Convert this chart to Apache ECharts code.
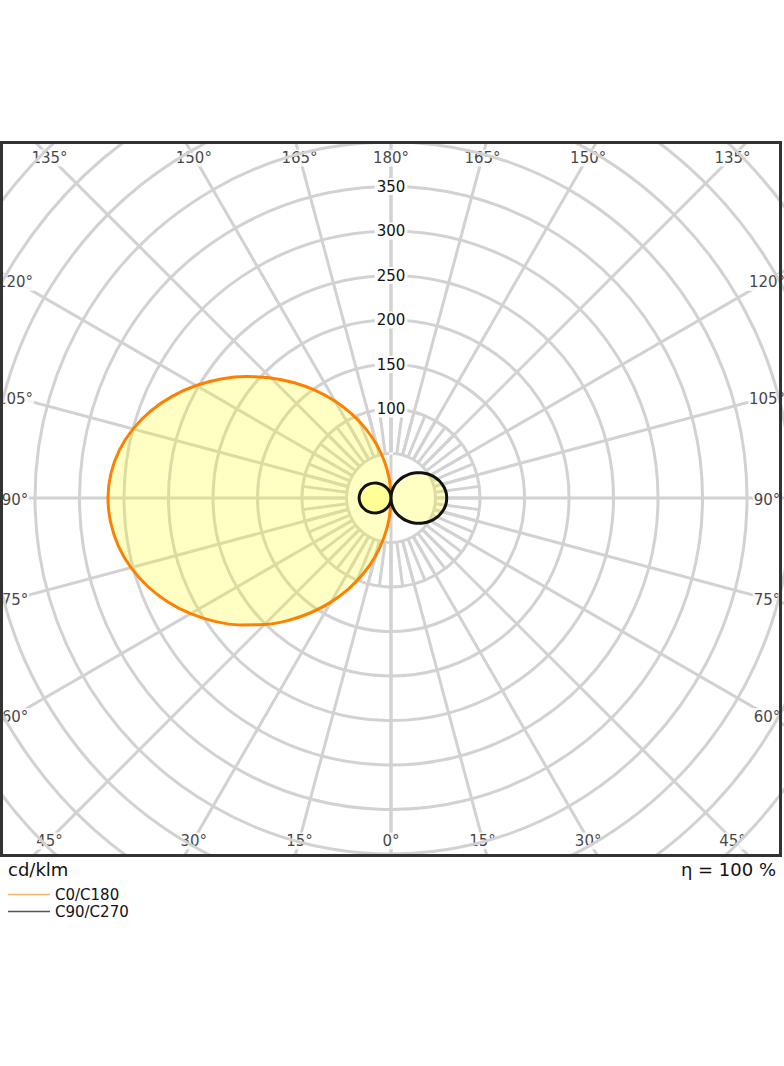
<!DOCTYPE html>
<html><head><meta charset="utf-8">
<script src="https://cdn.jsdelivr.net/npm/echarts@6/dist/echarts.min.js"></script>
<style>html,body{margin:0;padding:0;background:#fff;}#c{width:784px;height:1066px;}</style>
</head><body><div id="c"></div>
<script>
// ---- data (cd/klm), gamma 0..180 step 5 ----
const gamma = [0,5,10,15,20,25,30,35,40,45,50,55,60,65,70,75,80,85,90,95,100,105,110,115,120,125,130,135,140,145,150,155,160,165,170,175,180];
const c0   = [0,22.5,44.9,67.4,90.0,112.6,135.1,157.4,179.5,201.1,221.9,241.7,260.0,276.5,290.8,302.4,311.0,316.2,318.0,315.9,309.9,300.0,286.9,270.9,252.8,233.1,212.3,190.8,169.0,147.2,125.4,103.9,82.7,61.8,41.0,20.5,0];
const c180 = [0,0,0,0,0,0,0,0,0,0,0,0,0,0,0,0,0,0,0,0,0,0,0,0,0,0,0,0,0,0,0,0,0,0,0,0,0];
const c90  = [0,2.8,5.5,8.2,10.9,13.6,16.3,18.8,21.3,23.7,26.0,28.1,30.0,31.7,33.1,34.3,35.1,35.6,35.8,35.6,35.1,34.3,33.1,31.7,30.0,28.1,26.0,23.7,21.3,18.8,16.3,13.6,10.9,8.2,5.5,2.8,0];
const c270 = [0,4.5,9.1,13.6,18.1,22.6,27.1,31.5,35.9,40.1,44.2,48.0,51.6,54.7,57.4,59.6,61.3,62.3,62.6,62.3,61.3,59.6,57.4,54.7,51.6,48.0,44.2,40.1,35.9,31.5,27.1,22.6,18.1,13.6,9.1,4.5,0];
const ringLabels = [100,150,200,250,300,350];
const angleTicks = [180,165,150,135,120,105,90,75,60,45,30,15,0];
const seriesNames = ['C0/C180','C90/C270'];
const unitText = 'cd/klm';
const etaText = 'η = 100 %';

// ---- layout ----
const CX = 391, CY = 498, R_PX = 534, R_MAX = 600;
const PX = R_PX / R_MAX;
const HALF_W = 376, HALF_H = 341.5;
const FONT = 'DejaVu Sans';
const GRID = '#d2d2d2';
const INK = '#111';

function plane(left, right) {
  const pts = [];
  for (let i = gamma.length - 1; i >= 0; i--) pts.push([left[i], gamma[i]]);
  for (let i = 1; i < gamma.length; i++) pts.push([right[i], -gamma[i]]);
  return pts;
}
function edgeRadius(a) {
  const t = a * Math.PI / 180;
  const dx = Math.abs(Math.sin(t)), dy = Math.abs(Math.cos(t));
  const d = Math.min(dx > 1e-9 ? HALF_W / dx : Infinity, dy > 1e-9 ? HALF_H / dy : Infinity);
  return d / PX;
}
const edgeData = [];
angleTicks.forEach(a => {
  edgeData.push([edgeRadius(a), a]);
  if (a !== 0 && a !== 180) edgeData.push([edgeRadius(-a), -a]);
});

const angleBase = {type:'value', min:-180, max:180, startAngle:90, clockwise:true,
  axisLine:{show:false}, axisTick:{show:false}, axisLabel:{show:false}};

const chart = echarts.init(document.getElementById('c'), null, {renderer:'svg'});
chart.setOption({
  animation:false,
  textStyle:{fontFamily:FONT},
  polar:[
    {center:[CX,CY], radius:[0,R_PX]},
    {center:[CX,CY], radius:[50*PX,R_PX]},
    {center:[CX,CY], radius:[50*PX,100*PX]}
  ],
  angleAxis:[
    Object.assign({polarIndex:0, interval:180, splitLine:{show:true, lineStyle:{color:GRID,width:3}}}, angleBase),
    Object.assign({polarIndex:1, interval:15, splitLine:{show:true, lineStyle:{color:GRID,width:3}}}, angleBase),
    Object.assign({polarIndex:2, interval:7.5, splitLine:{show:true, lineStyle:{color:GRID,width:3}}}, angleBase)
  ],
  radiusAxis:[
    {polarIndex:0, type:'value', min:0, max:R_MAX, interval:50, z:5,
     axisLine:{show:false}, axisTick:{show:false},
     splitLine:{show:true, lineStyle:{color:GRID,width:3}},
     axisLabel:{show:true, margin:0, align:'center', verticalAlign:'middle',
       fontSize:15, fontFamily:FONT, color:INK, backgroundColor:'#fff', padding:[1,2],
       formatter: v => ringLabels.indexOf(v) >= 0 ? String(v) : ''}},
    {polarIndex:1, type:'value', min:50, max:R_MAX, axisLine:{show:false}, axisTick:{show:false}, axisLabel:{show:false}, splitLine:{show:false}},
    {polarIndex:2, type:'value', min:50, max:100, axisLine:{show:false}, axisTick:{show:false}, axisLabel:{show:false}, splitLine:{show:false}}
  ],
  legend:[
    {data:[{name:seriesNames[0], icon:'rect', itemStyle:{color:'#f7b468'}}], left:8, top:887, padding:0, itemWidth:42, itemHeight:1.5, z:60,
     textStyle:{fontSize:15, fontFamily:FONT, color:INK, lineHeight:15}},
    {data:[{name:seriesNames[1], icon:'rect', itemStyle:{color:'#50506a'}}], left:8, top:904, padding:0, itemWidth:42, itemHeight:1.5, z:60,
     textStyle:{fontSize:15, fontFamily:FONT, color:INK, lineHeight:15}}
  ],
  graphic:[
    {type:'rect', z:50, shape:{x:0,y:0,width:784,height:142}, style:{fill:'#fff'}},
    {type:'rect', z:50, shape:{x:0,y:856,width:784,height:210}, style:{fill:'#fff'}},
    {type:'rect', z:55, shape:{x:1.5,y:142.5,width:779,height:713}, style:{fill:null, stroke:'#333', lineWidth:3}},
    {type:'text', z:60, x:8, y:869, style:{text:unitText, fontSize:18, fontFamily:FONT, fill:INK, textAlign:'left', textVerticalAlign:'middle'}},
    {type:'text', z:60, x:776, y:869, style:{text:etaText, fontSize:18, fontFamily:FONT, fill:INK, textAlign:'right', textVerticalAlign:'middle'}}
  ],
  series:[
    {name:'edge', type:'scatter', coordinateSystem:'polar', polarIndex:0, symbolSize:0, z:4, silent:true,
     data:edgeData,
     label:{show:true, position:'inside', offset:[0,1.5], fontSize:15, fontFamily:FONT, color:INK, backgroundColor:'#fff', padding:[1,1],
       formatter: p => Math.abs(p.value[1]) + '°'}},
    {name:seriesNames[0], type:'line', coordinateSystem:'polar', polarIndex:0, symbol:'none', z:6, smooth:0.35,
     data:plane(c0, c180),
     lineStyle:{color:'#ff8000', width:3}, itemStyle:{color:'#ff8000'},
     areaStyle:{color:'rgba(255,255,0,0.33)'}},
    {name:seriesNames[1], type:'line', coordinateSystem:'polar', polarIndex:0, symbol:'none', z:7, smooth:0.35,
     data:plane(c90, c270),
     lineStyle:{color:INK, width:3}, itemStyle:{color:INK},
     areaStyle:{color:'rgba(255,255,0,0.33)'}}
  ]
});
</script></body></html>
